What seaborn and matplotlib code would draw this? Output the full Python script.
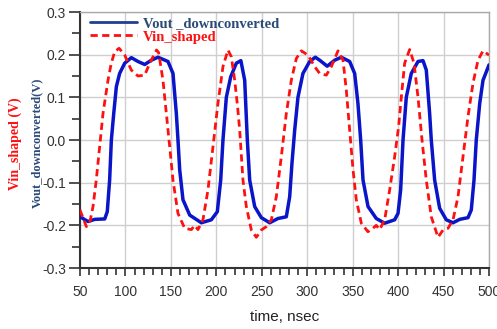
import matplotlib
matplotlib.use("Agg")
import matplotlib.pyplot as plt
import seaborn as sns
import pandas as pd
from matplotlib.ticker import MultipleLocator

# ---- data ----
t_vout = [50, 58.8, 66.2, 77.2, 80, 82.6, 84.5, 87.1, 90, 93.6, 99.2, 106.5, 113.8, 121.2,
          128.5, 135.8, 146.8, 152.3, 156, 157.8, 159.7, 163.3, 170.7, 183.5, 194.5, 201.1,
          204.8, 207.3, 211, 215.8, 222, 227, 231.2, 234.1, 236.7, 242.2, 249.5, 258.7,
          267.8, 277, 280.7, 283.2, 286.2, 289.8, 295.3, 302.7, 308.9, 313.7, 322, 330.2,
          337.5, 346.7, 352.2, 355.8, 358.8, 361.4, 366.9, 376, 385.2, 396.2, 399.9, 402.8,
          405.4, 409, 414.5, 421.9, 427.4, 431, 434.7, 436.5, 440.2, 445.7, 453, 460.4,
          467.7, 476.9, 480.5, 483.5, 486, 489.8, 493.4, 500]
v_vout = [-0.18, -0.191, -0.186, -0.185, -0.168, -0.094, 0.0, 0.062, 0.125, 0.156, 0.18, 0.193,
          0.184, 0.177, 0.187, 0.194, 0.184, 0.156, 0.062, 0.0, -0.07, -0.14, -0.176, -0.194,
          -0.187, -0.168, -0.094, 0.0, 0.10, 0.148, 0.18, 0.186, 0.14, 0.0, -0.094, -0.156,
          -0.182, -0.194, -0.184, -0.18, -0.133, -0.055, 0.023, 0.10, 0.156, 0.184, 0.194,
          0.187, 0.173, 0.187, 0.194, 0.184, 0.156, 0.086, 0.0, -0.094, -0.156, -0.184,
          -0.195, -0.187, -0.172, -0.117, 0.0, 0.10, 0.156, 0.184, 0.186, 0.164, 0.062, 0.0,
          -0.094, -0.16, -0.187, -0.194, -0.186, -0.182, -0.164, -0.094, 0.0, 0.086, 0.14,
          0.176]

t_vin = [50, 57, 60.6, 64.3, 67.9, 71.6, 75.3, 80.8, 84.4, 88.2, 93, 99.2, 106.4, 113.8, 121.2,
         126.7, 134.2, 136.5, 141.3, 145, 148.7, 152.3, 157.8, 165.2, 172.5, 176.2, 179.8,
         185.3, 190.8, 196.3, 201.8, 207.3, 212.8, 216.5, 220.2, 223.3, 225.7, 229.3, 233,
         238.5, 244, 249.5, 255, 260.5, 266, 271.5, 277, 282.5, 288, 293.5, 300.8, 308.2,
         313.7, 321, 326.5, 333.9, 339.4, 343, 346.7, 350.4, 354, 359.5, 366.8, 372.3, 375.9,
         379.7, 385.2, 390.7, 396.2, 400.5, 403.5, 407.2, 412.7, 417.5, 421.9, 426.3, 431,
         436.5, 443.9, 449.4, 454.9, 460.4, 465.9, 471.4, 476.9, 482.4, 487.9, 493.4, 500]
v_vin = [-0.164, -0.203, -0.195, -0.156, -0.094, -0.016, 0.062, 0.14, 0.18, 0.207, 0.215, 0.199,
         0.164, 0.15, 0.152, 0.18, 0.211, 0.205, 0.14, 0.062, -0.016, -0.094, -0.172, -0.207,
         -0.21, -0.2, -0.21, -0.187, -0.117, -0.016, 0.086, 0.172, 0.211, 0.195, 0.14, 0.08,
         0.023, -0.094, -0.156, -0.211, -0.228, -0.211, -0.203, -0.187, -0.133, -0.039, 0.062,
         0.14, 0.191, 0.209, 0.199, 0.172, 0.156, 0.152, 0.172, 0.209, 0.187, 0.117, 0.023,
         -0.07, -0.14, -0.195, -0.215, -0.207, -0.2, -0.21, -0.187, -0.117, -0.039, 0.03, 0.10,
         0.18, 0.212, 0.18, 0.10, 0.0, -0.094, -0.18, -0.228, -0.211, -0.207, -0.187, -0.133,
         -0.039, 0.055, 0.133, 0.187, 0.209, 0.199]

label_vout = "Vout _downconverted"
label_vin = "Vin_shaped"
ylabel_vin = "Vin_shaped (V)"
ylabel_vout = "Vout_downconverted(V)"
xlabel = "time, nsec"

sns.set_style("white")
plt.rcParams["font.family"] = ["Liberation Sans", "DejaVu Sans"]
plt.rcParams["axes.unicode_minus"] = False

fig = plt.figure(figsize=(4.97, 3.29), dpi=100)
ax = fig.add_axes([80 / 497, 1 - 268 / 329, 409 / 497, 256 / 329])

df_out = pd.DataFrame({"t": t_vout, "v": v_vout})
df_in = pd.DataFrame({"t": t_vin, "v": v_vin})

BLUE = "#0a14c8"
RED = "#ff1010"
sns.lineplot(data=df_out, x="t", y="v", ax=ax, color=BLUE, linewidth=2.5, zorder=3)
sns.lineplot(data=df_in, x="t", y="v", ax=ax, color=RED, linewidth=2.0, zorder=4)
l_out, l_in = ax.lines[0], ax.lines[1]
l_in.set_dashes([2.6, 1.6])

ax.set_xlim(50, 500)
ax.set_ylim(-0.3, 0.3)
ax.xaxis.set_major_locator(MultipleLocator(50))
ax.xaxis.set_minor_locator(MultipleLocator(10))
ax.yaxis.set_major_locator(MultipleLocator(0.1))
ax.yaxis.set_minor_locator(MultipleLocator(0.05))
ax.yaxis.set_major_formatter(matplotlib.ticker.FormatStrFormatter("%.1f"))
ax.grid(True, which="major", color="#cfcfcf", linewidth=1.0)
ax.set_axisbelow(True)

ax.tick_params(axis="both", which="both", direction="out", colors="#333333",
               labelsize=10, width=1.2, bottom=True, left=True, top=False, right=False)
ax.tick_params(axis="x", which="major", length=6, pad=6)
ax.tick_params(axis="x", which="minor", length=5)
ax.tick_params(axis="y", which="major", length=8, pad=2)
ax.tick_params(axis="y", which="minor", length=6)

for s in ["left", "bottom"]:
    ax.spines[s].set_color("#333333")
    ax.spines[s].set_linewidth(1.5)
for s in ["top", "right"]:
    ax.spines[s].set_color("#aaaaaa")
    ax.spines[s].set_linewidth(1.0)

ax.set_xlabel(xlabel, fontsize=11, color="#222222", labelpad=8)
ax.set_ylabel("")

leg = ax.legend([l_out, l_in], [label_vout, label_vin], loc="upper left",
                bbox_to_anchor=(0.0, 1.02), frameon=False, handlelength=3.2,
                handletextpad=0.4, labelspacing=0.0, borderaxespad=0.3,
                prop={"family": "Liberation Serif", "weight": "bold", "size": 10.5})
leg.get_texts()[0].set_color("#2a4a78")
leg.get_texts()[1].set_color(RED)
leg.get_lines()[0].set_color("#1f3f8f")
leg.get_lines()[0].set_linewidth(2.0)

fig.text(15 / 497, 1 - 144 / 329, ylabel_vin, rotation=90, ha="center", va="center",
         color=RED, family="Liberation Serif", weight="bold", fontsize=10)
fig.text(37 / 497, 1 - 143 / 329, ylabel_vout, rotation=90, ha="center", va="center",
         color="#2a4a78", family="Liberation Serif", weight="bold", fontsize=9)

fig.savefig("out.png", dpi=100)
